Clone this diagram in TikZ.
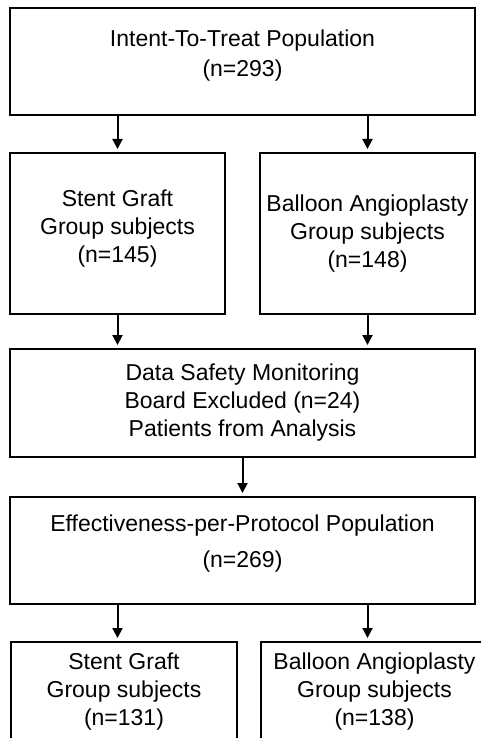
\documentclass[tikz,border=0pt]{standalone}
\usepackage{fontspec}
\setmainfont{Liberation Sans}
\usetikzlibrary{positioning,arrows.meta}

% a deeper last line pushes the text up inside its box
\newcommand{\lift}[1]{\rule[-#1]{0pt}{#1}}

\begin{document}
\begin{tikzpicture}[x=1pt,y=-1pt,
  box/.style={draw,line width=2pt,align=center,inner sep=0pt,font=\fontsize{23}{28}\selectfont},
  arr/.style={line width=2pt,-{Triangle[length=10pt,width=10pt]},shorten >=3pt}]
\useasboundingbox (0,0) rectangle (481,738);
\clip (0,0) rectangle (481,738);

% Flow of patients
\node[box,minimum width=465,minimum height=107] (itt) at (242.5,61.5) {Intent-To-Treat Population\\[2pt](n=293)\lift{17pt}};
\node[box,minimum width=215,minimum height=161] (sg1) at (117.5,233.5) {Stent Graft\\Group subjects\\(n=145)\lift{15pt}};
\node[box,minimum width=215,minimum height=161] (ba1) at (367.5,233.5) {Balloon Angioplasty\\Group subjects\\(n=148)};
\node[box,minimum width=465,minimum height=108] (dsmb) at (242.5,403) {Data Safety Monitoring\\Board Excluded (n=24)\\Patients from Analysis};
\node[box,minimum width=465,minimum height=107] (epp) at (242.5,550.5) {Effectiveness-per-Protocol Population\\[8pt](n=269)\lift{18pt}};
\node[box,minimum width=226,minimum height=99] (sg2) at (124,691.5) {Stent Graft\\Group subjects\\(n=131)};
\node[box,minimum width=227,minimum height=99] (ba2) at (374.5,691.5) {Balloon Angioplasty\\Group subjects\\(n=138)};

\draw[arr] (itt.south -| sg1.north) -- (sg1.north);
\draw[arr] (itt.south -| ba1.north) -- (ba1.north);
\draw[arr] (sg1.south) -- (sg1.south |- dsmb.north);
\draw[arr] (ba1.south) -- (ba1.south |- dsmb.north);
\draw[arr] (dsmb.south) -- (epp.north);
\draw[arr] (epp.south -| sg1.south) -- (sg2.north -| sg1.south);
\draw[arr] (epp.south -| ba1.south) -- (ba2.north -| ba1.south);
\end{tikzpicture}
\end{document}
